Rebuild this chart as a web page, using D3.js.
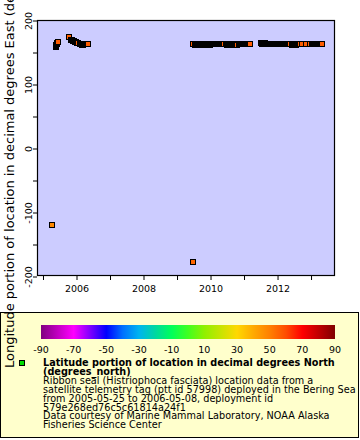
<!DOCTYPE html>
<html><head><meta charset="utf-8">
<script src="https://cdn.jsdelivr.net/npm/d3@7"></script>
<style>
html,body{margin:0;padding:0;background:#fff;}
svg{display:block;font-family:"DejaVu Sans",sans-serif;}
</style></head>
<body>
<svg id="chart" width="360" height="440"></svg>
<script>
// ---- data (decimal year, longitude °E, latitude °N) ----
const times = [
  2005.27,
  2005.403, 2005.403, 2005.403, 2005.433, 2005.433, 2005.463,
  2005.791, 2005.851, 2005.881, 2005.910, 2005.940, 2005.970, 2006.000, 2006.030, 2006.060,
  2006.119, 2006.149, 2006.179, 2006.209, 2006.239, 2006.269, 2006.299, 2006.328, 2006.358,
  2009.48,
  2009.50, 2009.56, 2009.59, 2009.62, 2009.65, 2009.68, 2009.71, 2009.74, 2009.77, 2009.80, 2009.83, 2009.86, 2009.89,
  2009.92, 2009.95, 2009.98, 2010.01, 2010.04, 2010.07, 2010.10, 2010.13, 2010.16, 2010.19, 2010.22, 2010.25, 2010.28,
  2010.31, 2010.34, 2010.37, 2010.40, 2010.43, 2010.49, 2010.52, 2010.55, 2010.58, 2010.61, 2010.64, 2010.67, 2010.70,
  2010.73, 2010.76, 2010.79, 2010.82, 2010.85, 2010.88, 2010.91, 2010.94, 2010.97, 2011.00, 2011.03, 2011.06, 2011.09,
  2011.12, 2011.15, 2011.19,
  2011.52, 2011.55, 2011.58, 2011.61, 2011.64, 2011.67, 2011.70, 2011.73, 2011.76, 2011.79, 2011.82, 2011.85, 2011.88,
  2011.91, 2011.94, 2011.97, 2012.00, 2012.03, 2012.06, 2012.09, 2012.12, 2012.15, 2012.18, 2012.21, 2012.24, 2012.27,
  2012.30, 2012.33, 2012.36, 2012.39, 2012.45, 2012.48, 2012.51, 2012.54, 2012.57, 2012.60, 2012.63, 2012.66, 2012.69,
  2012.75, 2012.87, 2012.99, 2013.05, 2013.08, 2013.11, 2013.14, 2013.17, 2013.20, 2013.23, 2013.26, 2013.29, 2013.32,
  2013.35
];
const lons = [
  -121,
  157.8, 159.4, 160.9, 162.5, 164.1, 165.6,
  173.4, 168.7, 168.7, 167.2, 167.2, 165.6, 165.6, 164.1, 164.1,
  162.5, 162.5, 160.9, 160.9, 162.5, 162.5, 162.5, 162.5, 162.5,
  -178,
  163, 161, 162.5, 161, 162.5, 162.5, 161, 162.5, 162.5, 162.5, 162.5, 161, 162.5,
  161, 162.5, 162.5, 161, 162.5, 162.5, 162.5, 162.5, 162.5, 162.5, 162.5, 162.5, 162.5,
  162.5, 162.5, 162.5, 162.5, 162.5, 162.5, 161, 162.5, 162.5, 161, 162.5, 162.5, 162.5,
  161, 162.5, 162.5, 161, 162.5, 162.5, 162.5, 162.5, 162.5, 162.5, 162.5, 162.5, 162.5,
  162.5, 162.5, 162.5,
  164, 162.5, 164, 162.5, 164, 162.5, 162.5, 162.5, 162.5, 162.5, 162.5, 162.5, 162.5,
  162.5, 162.5, 162.5, 162.5, 162.5, 162.5, 162.5, 162.5, 162.5, 162.5, 162.5, 162.5, 162.5,
  162.5, 162.5, 162.5, 162.5, 161, 162.5, 161, 162.5, 161, 162.5, 162.5, 162.5, 162.5,
  162.5, 162.5, 162.5, 162.5, 162.5, 162.5, 162.5, 162.5, 162.5, 162.5, 162.5, 162.5, 162.5,
  162.5
];
const lats = [
  48,
  57, 57, 57, 57, 57, 57,
  56, 57, 57, 57, 57, 57, 57, 57, 57,
  57, 57, 57, 57, 57, 57, 57, 57, 57,
  55,
  57, 57, 57, 57, 57, 57, 57, 57, 57, 57, 57, 57, 57,
  57, 57, 57, 57, 57, 57, 57, 57, 57, 57, 57, 57, 57,
  57, 57, 57, 57, 57, 57, 57, 57, 57, 57, 57, 57, 57,
  57, 57, 57, 57, 57, 57, 57, 57, 57, 57, 57, 57, 57,
  57, 57, 57,
  57, 57, 57, 57, 57, 57, 57, 57, 57, 57, 57, 57, 57,
  57, 57, 57, 57, 57, 57, 57, 57, 57, 57, 57, 57, 57,
  57, 57, 57, 57, 57, 57, 57, 57, 57, 57, 57, 57, 57,
  57, 57, 57, 57, 57, 57, 57, 57, 57, 57, 57, 57, 57,
  57
];
const xMajorTicks = [2006, 2008, 2010, 2012];
const xMinorTicks = [2005, 2007, 2009, 2011, 2013];
const yMajorTicks = [-200, -100, 0, 100, 200];
const yMinorTicks = [-150, -50, 50, 150];
const cbTicks = [-90, -70, -50, -30, -10, 10, 30, 50, 70, 90];
const cbStops = [-90, -70, -50, -40, -30, -20, -10, 0, 10, 20, 30, 40, 50, 60, 70, 80, 90];
const cbColors = ["#800080", "#ff00ff", "#0000ff", "#0070ff", "#00b4f0", "#00d8a0", "#00ff5a", "#40ff20",
                  "#90f000", "#c8e400", "#ffd800", "#ffaa00", "#ff8000", "#ff4c00", "#ff0000", "#c00000", "#800000"];
const yTitle = "Longitude portion of location in decimal degrees East (degrees_east)";
const legendTitle = ["Latitude portion of location in decimal degrees North", "(degrees_north)"];
const legendLines = [
  "Ribbon seal (Histriophoca fasciata) location data from a",
  "satellite telemetry tag (ptt id 57998) deployed in the Bering Sea",
  "from 2005-05-25 to 2006-05-08, deployment id",
  "579e268ed76c5c61814a24f1",
  "Data courtesy of Marine Mammal Laboratory, NOAA Alaska",
  "Fisheries Science Center"
];

// ---- layout ----
const svg = d3.select("#chart");
const L = 37, R = 335, T = 20, B = 276;
const x = d3.scaleLinear().domain([2004.836, 2013.73]).range([L, R]);
const y = d3.scaleLinear().domain([-200, 200]).range([B, T]);
const color = d3.scaleLinear().domain(cbStops).range(cbColors).clamp(true);

// plot background
svg.append("rect").attr("x", L).attr("y", T).attr("width", R - L).attr("height", B - T)
  .attr("fill", "#ccccff");

// markers
const pts = times.map((t, i) => ({t, lon: lons[i], lat: lats[i]}));
svg.append("g").attr("shape-rendering", "crispEdges").selectAll("rect").data(pts).join("rect")
  .attr("x", d => Math.round(x(d.t)) - 2.5)
  .attr("y", d => Math.round(y(d.lon)) - 2.5)
  .attr("width", 5).attr("height", 5)
  .attr("fill", d => color(d.lat))
  .attr("stroke", "#000").attr("stroke-width", 1);

// frame
svg.append("rect").attr("x", L + 0.5).attr("y", T + 0.5).attr("width", R - L - 1).attr("height", B - T - 1)
  .attr("fill", "none").attr("stroke", "#000").attr("stroke-width", 1.2);

// x axis
const xAxis = svg.append("g").attr("transform", `translate(0.5,${B})`)
  .call(d3.axisBottom(x).tickValues(xMajorTicks.concat(xMinorTicks))
    .tickSize(4).tickSizeOuter(0)
    .tickFormat(d => xMajorTicks.includes(d) ? String(d) : ""));
xAxis.select(".domain").remove();
xAxis.selectAll("text").attr("font-size", 9.5).attr("font-family", "DejaVu Sans").attr("fill", "#000").attr("dy", "0.9em");
xAxis.selectAll("line").attr("stroke", "#000");

// y axis
const yAxis = svg.append("g").attr("transform", `translate(${L},0.5)`)
  .call(d3.axisLeft(y).tickValues(yMajorTicks.concat(yMinorTicks))
    .tickSize(4).tickSizeOuter(0)
    .tickFormat(d => yMajorTicks.includes(d) ? String(d) : ""));
yAxis.select(".domain").remove();
yAxis.selectAll("line").attr("stroke", "#000");
yAxis.selectAll("text")
  .attr("font-size", 9.5).attr("font-family", "DejaVu Sans").attr("fill", "#000")
  .attr("x", null).attr("dy", null)
  .attr("text-anchor", "middle")
  .attr("transform", "translate(-5,0) rotate(-90)");

// legend box
svg.append("rect").attr("x", 0.5).attr("y", 312.5).attr("width", 358).attr("height", 125)
  .attr("fill", "#ffffcc").attr("stroke", "#000").attr("stroke-width", 1);

// colorbar
const cb = d3.scaleLinear().domain([-90, 90]).range([41, 335]);
const grad = svg.append("defs").append("linearGradient").attr("id", "cbg")
  .attr("x1", "0%").attr("x2", "100%").attr("y1", "0%").attr("y2", "0%");
grad.selectAll("stop").data(cbStops).join("stop")
  .attr("offset", d => ((d + 90) / 180 * 100) + "%")
  .attr("stop-color", (d, i) => cbColors[i]);
svg.append("rect").attr("x", cb(-90)).attr("y", 325).attr("width", cb(90) - cb(-90)).attr("height", 14)
  .attr("fill", "url(#cbg)");
svg.append("g").selectAll("text").data(cbTicks).join("text")
  .attr("x", d => cb(d)).attr("y", 352.5)
  .attr("text-anchor", "middle").attr("font-size", 9.5).text(d => String(d));

// legend marker + text
svg.append("rect").attr("x", 19.5).attr("y", 360.5).attr("width", 5).attr("height", 5)
  .attr("fill", "#00dd00").attr("stroke", "#000").attr("stroke-width", 1);
const lt = svg.append("g").attr("font-size", 9.7).attr("fill", "#000");
legendTitle.forEach((s, i) => lt.append("text").attr("x", 43).attr("y", 366 + i * 8.9)
  .attr("font-weight", "bold").text(s));
legendLines.forEach((s, i) => lt.append("text").attr("x", 43).attr("y", 383.8 + i * 8.9).text(s));

// y title
svg.append("text").attr("transform", "translate(14,368) rotate(-90)")
  .attr("font-size", 13).attr("fill", "#000").text(yTitle);
</script>
</body></html>
